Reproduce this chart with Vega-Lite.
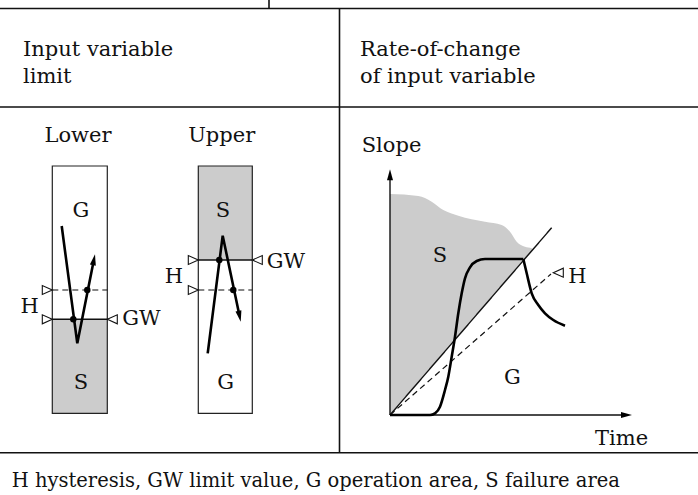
{
  "$schema": "https://vega.github.io/schema/vega-lite/v6.json",
  "width": 698,
  "height": 495,
  "autosize": {"type": "none"},
  "padding": 0,
  "background": "white",
  "config": {"view": {"stroke": null}},
  "datasets": {
    "failure_band": [
      {"x": 390, "top": 194, "bottom": 415},
      {"x": 418.3, "top": 196, "bottom": 382.2},
      {"x": 431.7, "top": 201.7, "bottom": 366.7},
      {"x": 443.3, "top": 210, "bottom": 353.3},
      {"x": 458.3, "top": 215.7, "bottom": 335.9},
      {"x": 485, "top": 221.7, "bottom": 305},
      {"x": 501.7, "top": 225, "bottom": 285.7},
      {"x": 510, "top": 231.7, "bottom": 276},
      {"x": 516.7, "top": 241.7, "bottom": 268.3},
      {"x": 525, "top": 246.7, "bottom": 258.7},
      {"x": 531.7, "top": 248.3, "bottom": 250.9},
      {"x": 533, "top": 249.4, "bottom": 249.4}
    ],
    "zones": [
      {"zone": "lower S", "x": 52.3, "x2": 107.3, "y": 319.3, "y2": 413.3},
      {"zone": "upper S", "x": 198.3, "x2": 252.3, "y": 166, "y2": 260}
    ],
    "boxes": [
      {"box": "Lower", "x": 52.3, "x2": 107.3, "y": 166, "y2": 413.3},
      {"box": "Upper", "x": 198.3, "x2": 252.3, "y": 166, "y2": 413.3}
    ],
    "segments": [
      {"kind": "table", "x": 0, "y": 8.5, "x2": 698, "y2": 8.5},
      {"kind": "table", "x": 269, "y": 0, "x2": 269, "y2": 8.5},
      {"kind": "table", "x": 339.5, "y": 8.5, "x2": 339.5, "y2": 452.7},
      {"kind": "table", "x": 0, "y": 107, "x2": 698, "y2": 107},
      {"kind": "table", "x": 0, "y": 452.7, "x2": 698, "y2": 452.7},
      {"kind": "limit", "x": 52.3, "y": 319.3, "x2": 107.3, "y2": 319.3},
      {"kind": "limit", "x": 198.3, "y": 260, "x2": 252.3, "y2": 260},
      {"kind": "limit", "x": 390, "y": 415, "x2": 551.7, "y2": 227.7},
      {"kind": "limit", "x": 390, "y": 415, "x2": 390, "y2": 174},
      {"kind": "limit", "x": 390, "y": 415, "x2": 626, "y2": 415},
      {"kind": "hysteresis", "x": 52.3, "y": 290, "x2": 107.3, "y2": 290},
      {"kind": "hysteresis", "x": 198.3, "y": 290, "x2": 252.3, "y2": 290},
      {"kind": "hysteresis", "x": 390, "y": 415, "x2": 551, "y2": 274}
    ],
    "limit_signals": [
      {"id": "lower", "o": 1, "x": 61.7, "y": 226},
      {"id": "lower", "o": 2, "x": 77.3, "y": 343.3},
      {"id": "lower", "o": 3, "x": 93.8, "y": 260.2},
      {"id": "upper", "o": 1, "x": 207.7, "y": 353.3},
      {"id": "upper", "o": 2, "x": 222.7, "y": 235.7},
      {"id": "upper", "o": 3, "x": 239.5, "y": 315.8}
    ],
    "rate_signals": [
      {"id": "rise", "o": 1, "x": 390, "y": 415},
      {"id": "rise", "o": 2, "x": 430, "y": 415},
      {"id": "rise", "o": 3, "x": 435, "y": 413.3},
      {"id": "rise", "o": 4, "x": 440, "y": 406.7},
      {"id": "rise", "o": 5, "x": 445, "y": 390},
      {"id": "rise", "o": 6, "x": 448.3, "y": 376.7},
      {"id": "rise", "o": 7, "x": 451.7, "y": 356.7},
      {"id": "rise", "o": 8, "x": 455, "y": 336.7},
      {"id": "rise", "o": 9, "x": 458.3, "y": 313.3},
      {"id": "rise", "o": 10, "x": 461.7, "y": 293.3},
      {"id": "rise", "o": 11, "x": 465, "y": 278.3},
      {"id": "rise", "o": 12, "x": 470, "y": 267.3},
      {"id": "rise", "o": 13, "x": 476.7, "y": 261},
      {"id": "rise", "o": 14, "x": 485, "y": 259},
      {"id": "rise", "o": 15, "x": 523.3, "y": 259},
      {"id": "fall", "o": 1, "x": 523.3, "y": 259},
      {"id": "fall", "o": 2, "x": 526.7, "y": 273.3},
      {"id": "fall", "o": 3, "x": 531.7, "y": 293.3},
      {"id": "fall", "o": 4, "x": 538.3, "y": 305},
      {"id": "fall", "o": 5, "x": 545, "y": 313.3},
      {"id": "fall", "o": 6, "x": 553.3, "y": 320},
      {"id": "fall", "o": 7, "x": 565, "y": 325.7}
    ],
    "arrowheads": [
      {"x": 95, "y": 254.3, "angle": 11.2},
      {"x": 240.7, "y": 321.7, "angle": 168.2},
      {"x": 390, "y": 169.3, "angle": 0},
      {"x": 632, "y": 415, "angle": 90}
    ],
    "markers": [
      {"x": 52.3, "y": 290, "angle": 0},
      {"x": 52.3, "y": 319.3, "angle": 0},
      {"x": 107.3, "y": 319.3, "angle": 180},
      {"x": 198.3, "y": 260, "angle": 0},
      {"x": 198.3, "y": 290, "angle": 0},
      {"x": 252.3, "y": 260, "angle": 180},
      {"x": 553.3, "y": 272.7, "angle": 180}
    ],
    "crossings": [
      {"x": 73.3, "y": 319.3},
      {"x": 87.3, "y": 290},
      {"x": 219.3, "y": 260},
      {"x": 233.3, "y": 290}
    ],
    "labels_left": [
      {"x": 23, "y": 56, "label": "Input variable"},
      {"x": 23, "y": 83, "label": "limit"},
      {"x": 360, "y": 56, "label": "Rate-of-change"},
      {"x": 360, "y": 83, "label": "of input variable"},
      {"x": 361.7, "y": 151.7, "label": "Slope"},
      {"x": 122.3, "y": 325, "label": "GW"},
      {"x": 266.7, "y": 268.3, "label": "GW"},
      {"x": 568.3, "y": 283.3, "label": "H"},
      {"x": 595, "y": 445, "label": "Time"}
    ],
    "labels_center": [
      {"x": 78, "y": 141.7, "label": "Lower"},
      {"x": 221.7, "y": 141.7, "label": "Upper"},
      {"x": 81, "y": 216.7, "label": "G"},
      {"x": 81, "y": 389, "label": "S"},
      {"x": 223, "y": 216.7, "label": "S"},
      {"x": 225.7, "y": 389, "label": "G"},
      {"x": 29.7, "y": 313.3, "label": "H"},
      {"x": 174, "y": 283.3, "label": "H"},
      {"x": 440, "y": 261.7, "label": "S"},
      {"x": 512.5, "y": 384, "label": "G"}
    ],
    "footer": [
      {"x": 11.7, "y": 487, "label": "H hysteresis, GW limit value, G operation area, S failure area"}
    ]
  },
  "layer": [
    {
      "data": {"name": "failure_band"},
      "mark": {"type": "area", "color": "#cccccc", "interpolate": "monotone"},
      "encoding": {
        "x": {"field": "x", "type": "quantitative", "scale": {"domain": [0, 698]}, "axis": null},
        "y": {"field": "top", "type": "quantitative", "scale": {"domain": [0, 495], "reverse": true}, "axis": null},
        "y2": {"field": "bottom"}
      }
    },
    {
      "data": {"name": "zones"},
      "mark": {"type": "rect", "color": "#cccccc"},
      "encoding": {
        "x": {"field": "x", "type": "quantitative", "scale": {"domain": [0, 698]}, "axis": null},
        "x2": {"field": "x2"},
        "y": {"field": "y", "type": "quantitative", "scale": {"domain": [0, 495], "reverse": true}, "axis": null},
        "y2": {"field": "y2"}
      }
    },
    {
      "data": {"name": "boxes"},
      "mark": {"type": "rect", "filled": false, "stroke": "#222222", "strokeWidth": 1.2},
      "encoding": {
        "x": {"field": "x", "type": "quantitative", "scale": {"domain": [0, 698]}, "axis": null},
        "x2": {"field": "x2"},
        "y": {"field": "y", "type": "quantitative", "scale": {"domain": [0, 495], "reverse": true}, "axis": null},
        "y2": {"field": "y2"}
      }
    },
    {
      "data": {"name": "segments"},
      "mark": {"type": "rule", "color": "#111111"},
      "encoding": {
        "x": {"field": "x", "type": "quantitative", "scale": {"domain": [0, 698]}, "axis": null},
        "x2": {"field": "x2"},
        "y": {"field": "y", "type": "quantitative", "scale": {"domain": [0, 495], "reverse": true}, "axis": null},
        "y2": {"field": "y2"},
        "strokeWidth": {"field": "kind", "type": "nominal", "scale": {"domain": ["table", "limit", "hysteresis"], "range": [1.6, 1.2, 1.1]}, "legend": null},
        "strokeDash": {"field": "kind", "type": "nominal", "scale": {"domain": ["table", "limit", "hysteresis"], "range": [[1, 0], [1, 0], [6, 4]]}, "legend": null}
      }
    },
    {
      "data": {"name": "limit_signals"},
      "mark": {"type": "line", "color": "#000000", "strokeWidth": 2.6, "interpolate": "linear", "strokeJoin": "miter"},
      "encoding": {
        "x": {"field": "x", "type": "quantitative", "scale": {"domain": [0, 698]}, "axis": null},
        "y": {"field": "y", "type": "quantitative", "scale": {"domain": [0, 495], "reverse": true}, "axis": null},
        "detail": {"field": "id", "type": "nominal"},
        "order": {"field": "o", "type": "quantitative"}
      }
    },
    {
      "data": {"name": "rate_signals"},
      "mark": {"type": "line", "color": "#000000", "strokeWidth": 2.6, "interpolate": "monotone", "strokeJoin": "miter"},
      "encoding": {
        "x": {"field": "x", "type": "quantitative", "scale": {"domain": [0, 698]}, "axis": null},
        "y": {"field": "y", "type": "quantitative", "scale": {"domain": [0, 495], "reverse": true}, "axis": null},
        "detail": {"field": "id", "type": "nominal"},
        "order": {"field": "o", "type": "quantitative"}
      }
    },
    {
      "data": {"name": "arrowheads"},
      "mark": {"type": "point", "shape": "M0,0L0.6,2.2L-0.6,2.2Z", "filled": true, "color": "#000000", "size": 100, "opacity": 1},
      "encoding": {
        "x": {"field": "x", "type": "quantitative", "scale": {"domain": [0, 698]}, "axis": null},
        "y": {"field": "y", "type": "quantitative", "scale": {"domain": [0, 495], "reverse": true}, "axis": null},
        "angle": {"field": "angle", "type": "quantitative", "scale": null}
      }
    },
    {
      "data": {"name": "markers"},
      "mark": {"type": "point", "shape": "M0,0L-2,-0.9L-2,0.9Z", "filled": true, "fill": "white", "stroke": "#111111", "strokeWidth": 1.1, "size": 100, "opacity": 1},
      "encoding": {
        "x": {"field": "x", "type": "quantitative", "scale": {"domain": [0, 698]}, "axis": null},
        "y": {"field": "y", "type": "quantitative", "scale": {"domain": [0, 495], "reverse": true}, "axis": null},
        "angle": {"field": "angle", "type": "quantitative", "scale": null}
      }
    },
    {
      "data": {"name": "crossings"},
      "mark": {"type": "circle", "color": "#000000", "size": 42, "opacity": 1},
      "encoding": {
        "x": {"field": "x", "type": "quantitative", "scale": {"domain": [0, 698]}, "axis": null},
        "y": {"field": "y", "type": "quantitative", "scale": {"domain": [0, 495], "reverse": true}, "axis": null}
      }
    },
    {
      "data": {"name": "labels_left"},
      "mark": {"type": "text", "align": "left", "baseline": "alphabetic", "font": "DejaVu Serif", "fontSize": 21, "color": "#111111"},
      "encoding": {
        "x": {"field": "x", "type": "quantitative", "scale": {"domain": [0, 698]}, "axis": null},
        "y": {"field": "y", "type": "quantitative", "scale": {"domain": [0, 495], "reverse": true}, "axis": null},
        "text": {"field": "label"}
      }
    },
    {
      "data": {"name": "labels_center"},
      "mark": {"type": "text", "align": "center", "baseline": "alphabetic", "font": "DejaVu Serif", "fontSize": 21, "color": "#111111"},
      "encoding": {
        "x": {"field": "x", "type": "quantitative", "scale": {"domain": [0, 698]}, "axis": null},
        "y": {"field": "y", "type": "quantitative", "scale": {"domain": [0, 495], "reverse": true}, "axis": null},
        "text": {"field": "label"}
      }
    },
    {
      "data": {"name": "footer"},
      "mark": {"type": "text", "align": "left", "baseline": "alphabetic", "font": "DejaVu Serif", "fontSize": 19.5, "color": "#111111"},
      "encoding": {
        "x": {"field": "x", "type": "quantitative", "scale": {"domain": [0, 698]}, "axis": null},
        "y": {"field": "y", "type": "quantitative", "scale": {"domain": [0, 495], "reverse": true}, "axis": null},
        "text": {"field": "label"}
      }
    }
  ]
}
